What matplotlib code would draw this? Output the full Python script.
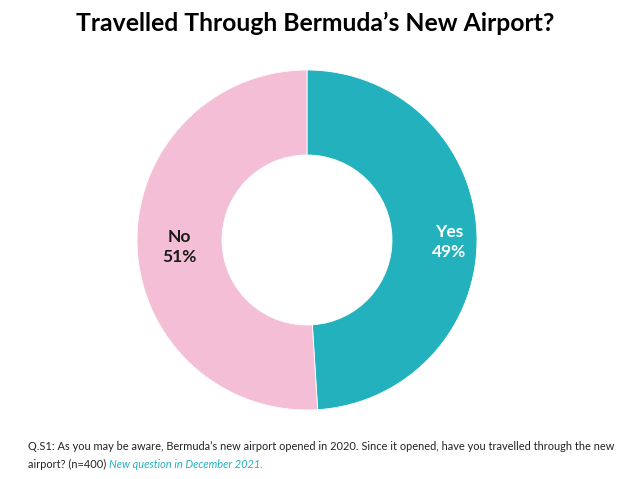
import matplotlib
matplotlib.use("Agg")
import matplotlib.pyplot as plt

categories = ["Yes", "No"]
values = [49, 51]
colors = ["#23B1BD", "#F4BFD6"]
label_colors = ["white", "#1a1a1a"]

FONT = "Lato"

fig = plt.figure(figsize=(6.31, 4.79), dpi=100)
ax = fig.add_axes([137/631, 69/479, 340/631, 340/479])
wedges, texts = ax.pie(values, colors=colors, startangle=90, counterclock=False,
                       radius=1.0, wedgeprops=dict(width=0.5, edgecolor="white", linewidth=0.6),
                       labels=[f"{c}\n{v}%" for c, v in zip(categories, values)],
                       labeldistance=0.75,
                       textprops=dict(fontsize=12.5, fontweight="bold", ha="center", va="center",
                                      family=FONT, linespacing=1.3))
for t, c in zip(texts, label_colors):
    t.set_color(c)
texts[0].set_position((0.835, -0.01))
texts[1].set_position((-0.75, -0.04))
ax.set_xlim(-1, 1)
ax.set_ylim(-1, 1)
ax.set_aspect("equal")
ax.axis("off")

fig.text(0.5, 1 - 23/479, "Travelled Through Bermuda\u2019s New Airport?", ha="center", va="center",
         fontsize=17.8, fontweight="bold", family=FONT, color="black")

fig.text(28/631, 1 - 447/479, "Q.S1: As you may be aware, Bermuda\u2019s new airport opened in 2020. Since it opened, have you travelled through the new",
         ha="left", va="center", fontsize=7.9, family=FONT, color="#222222")
t1 = fig.text(28/631, 1 - 464/479, "airport? (n=400) ", ha="left", va="center", fontsize=7.9,
              family=FONT, color="#222222")
fig.canvas.draw()
bb = t1.get_window_extent()
fig.text(bb.x1/fig.bbox.width, 1 - 464/479, "New question in December 2021.", ha="left", va="center",
         fontsize=7.9, family=FONT, style="italic", color="#23B1BD")

fig.savefig("out.png", dpi=100)
